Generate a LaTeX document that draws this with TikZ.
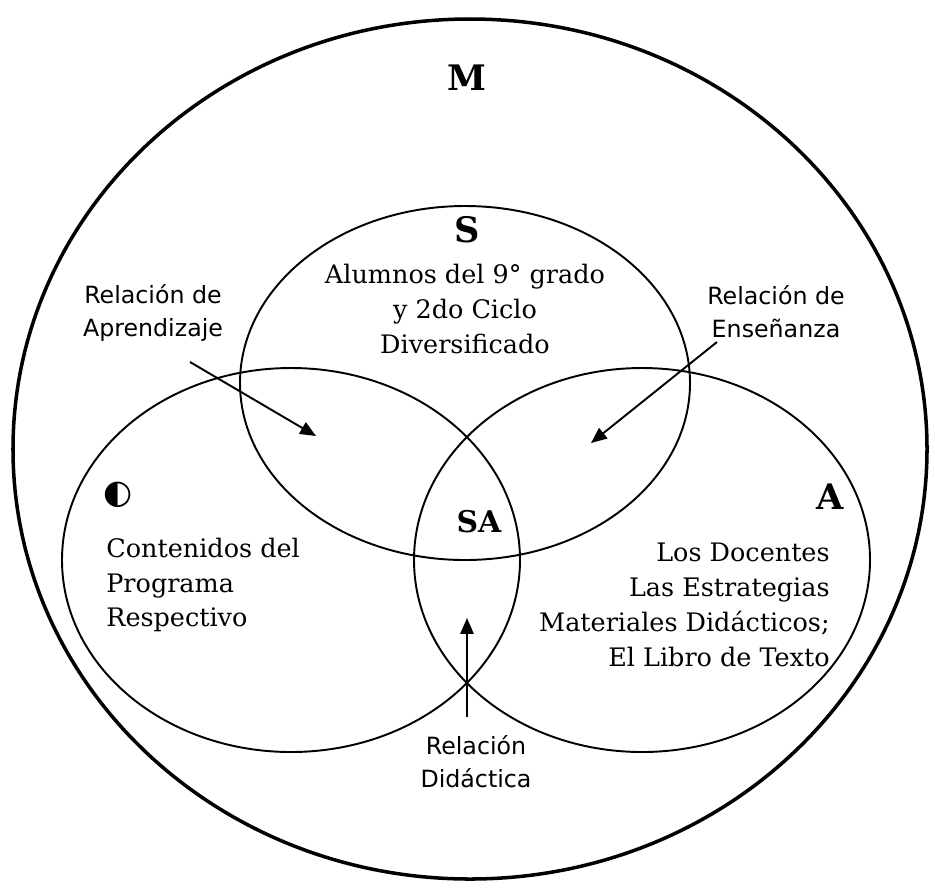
\documentclass[tikz,border=0pt]{standalone}
\usepackage{fontspec}
\setmainfont{DejaVu Serif}
\newfontfamily\labelfont{DejaVu Sans}
\usetikzlibrary{arrows.meta}
\tikzset{
  setline/.style={draw, line width=1.1pt},
  settext/.style={font=\fontsize{14.5}{19.8}\selectfont, inner sep=0pt},
  rellabel/.style={font=\labelfont\fontsize{13.5}{18.7}\selectfont, align=center, inner sep=0pt},
  setletter/.style={font=\bfseries\fontsize{20}{24}\selectfont, inner sep=0pt},
  relarrow/.style={line width=1.1pt, -{Triangle[length=9pt,width=7.5pt]}}
}
\begin{document}
\begin{tikzpicture}[x=0.02cm, y=-0.02cm]
      \useasboundingbox (0,0) rectangle (935,890);
      % Universe M
      \draw[line width=2pt] (470,449) ellipse [x radius=457, y radius=430];
      \node[setletter] (m) at (467,78) {M};

      % Sets S, C, A
      \draw[setline] (465,383) ellipse [x radius=225, y radius=177];
      \draw[setline] (291,560) ellipse [x radius=229, y radius=192];
      \draw[setline] (642,560) ellipse [x radius=228, y radius=192];

      \node[setletter] (s) at (467,230) {S};
      \node[font=\labelfont\fontsize{19}{22}\selectfont, inner sep=0pt] (c) at (118,495) {◐};
      \node[setletter] (a) at (830,497) {A};
      \node[setletter, font=\bfseries\fontsize{17}{20}\selectfont] (sa) at (479,522) {SA};

      \node[settext, align=center] (stext) at (465,309)
        {Alumnos del 9° grado\\y 2do Ciclo\\Diversificado};
      \node[settext, align=left, anchor=west] (ctext) at (106,585)
        {Contenidos del\\Programa\\Respectivo};
      \node[settext, align=right, anchor=east] (atext) at (830,605)
        {Los Docentes\\Las Estrategias\\Materiales Didácticos;\\El Libro de Texto};

      % Relations
      \node[rellabel] (aprend) at (153,313) {Relación de\\Aprendizaje};
      \node[rellabel] (ensen) at (776,312) {Relación de\\Enseñanza};
      \node[rellabel] (didac) at (476,762) {Relación\\Didáctica};

      \coordinate (aprendfrom) at (190,362);
      \coordinate (aprendto) at (316,436);
      \coordinate (ensenfrom) at (717,342);
      \coordinate (ensento) at (591,443);
      \coordinate (didacfrom) at (467,717);
      \coordinate (didacto) at (467,618);

      \draw[relarrow] (aprendfrom) -- (aprendto);
      \draw[relarrow] (ensenfrom) -- (ensento);
      \draw[relarrow] (didacfrom) -- (didacto);
    \end{tikzpicture}
\end{document}
